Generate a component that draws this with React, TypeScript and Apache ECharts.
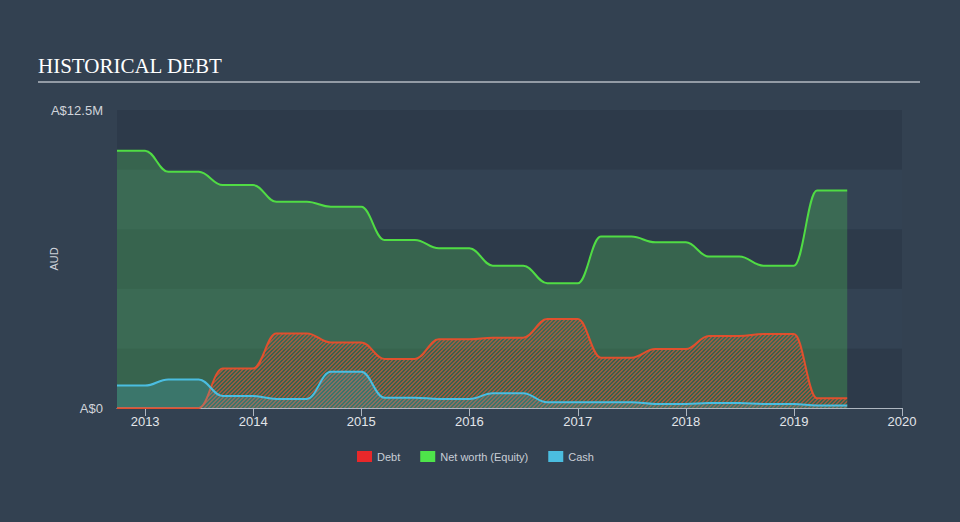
import React, { useEffect, useRef } from "react";
import * as echarts from "echarts";

// Flat segments of each reporting period (start / end of the plateau)
const segStart = [
  "2012-09-28", "2013-03-20", "2013-09-20", "2014-03-20", "2014-09-20",
  "2015-03-20", "2015-09-20", "2016-03-20", "2016-09-20", "2017-03-20",
  "2017-09-20", "2018-03-20", "2018-09-20", "2019-03-20",
];
const segEnd = [
  "2013-01-01", "2013-07-01", "2014-01-01", "2014-07-01", "2015-01-01",
  "2015-07-01", "2016-01-01", "2016-07-01", "2017-01-01", "2017-07-01",
  "2018-01-01", "2018-07-01", "2019-01-01", "2019-06-30",
];
// values in A$ millions
const equity = [10.79, 9.91, 9.35, 8.65, 8.44, 7.05, 6.7, 5.97, 5.23, 7.19, 6.95, 6.35, 5.97, 9.12];
const debt = [0, 0, 1.66, 3.13, 2.75, 2.06, 2.88, 2.95, 3.73, 2.11, 2.47, 3.02, 3.1, 0.41];
const cash = [0.94, 1.2, 0.5, 0.38, 1.52, 0.43, 0.38, 0.62, 0.24, 0.24, 0.17, 0.21, 0.17, 0.11];

const legendNames = ["Debt", "Net worth (Equity)", "Cash"];
const yMin = 0;
const yMax = 12.5;
const yStep = 2.5;

function build(vals: number[]) {
  const out: [string, number][] = [];
  vals.forEach((v, i) => {
    out.push([segStart[i], v]);
    out.push([segEnd[i], v]);
  });
  return out;
}

function makeHatch(color: string) {
  const c = document.createElement("canvas");
  const s = 4;
  c.width = s;
  c.height = s;
  const ctx = c.getContext("2d")!;
  ctx.clearRect(0, 0, s, s);
  ctx.fillStyle = color;
  for (let i = 0; i < s; i++) {
    ctx.fillRect(i, (s - 1 - i) % s, 1, 1);
    ctx.fillRect(i, (s - i) % s, 1, 1);
  }
  return c;
}

export default function App() {
  const ref = useRef<HTMLDivElement>(null);
  useEffect(() => {
    if (!ref.current) return;
    const chart = echarts.init(ref.current, undefined, { renderer: "svg" });
    const hatch = makeHatch("rgba(192,86,58,0.72)");
    chart.setOption({
      animation: false,
      backgroundColor: "#334151",
      title: {
        text: "HISTORICAL DEBT",
        left: 33,
        top: 50,
        textStyle: {
          fontFamily: "Liberation Serif",
          fontSize: 21,
          fontWeight: "normal",
          color: "#ffffff",
        },
      },
      graphic: [
        {
          type: "line",
          shape: { x1: 38, y1: 82, x2: 920, y2: 82 },
          style: { stroke: "#b4bac2", lineWidth: 1.5 },
        },
      ],
      legend: {
        data: legendNames,
        top: 446,
        left: 352,
        icon: "rect",
        itemWidth: 15,
        itemHeight: 11,
        itemGap: 20,
        textStyle: { color: "#c9ced6", fontSize: 11, fontFamily: "Liberation Sans" },
      },
      grid: { left: 117, right: 58, top: 110, bottom: 114 },
      xAxis: {
        type: "time",
        min: "2012-09-28",
        max: "2020-01-01",
        minInterval: 365 * 24 * 3600 * 1000,
        axisLine: { lineStyle: { color: "#aeb6c0", width: 1 } },
        axisTick: { show: true, length: 8, lineStyle: { color: "#aeb6c0" } },
        axisLabel: {
          formatter: "{yyyy}",
          color: "#e2e5ea",
          fontSize: 13,
          margin: 7,
          fontFamily: "Liberation Sans",
          showMinLabel: false,
          showMaxLabel: true,
        },
        splitLine: { show: false },
      },
      yAxis: {
        type: "value",
        min: yMin,
        max: yMax,
        interval: yStep,
        name: "AUD",
        nameLocation: "middle",
        nameGap: 58,
        nameMoveOverlap: false,
        nameRotate: 90,
        nameTextStyle: { color: "#d0d4da", fontSize: 11, fontFamily: "Liberation Sans" },
        axisLine: { show: false },
        axisTick: { show: false },
        splitLine: { show: false },
        splitArea: { show: true, areaStyle: { color: ["#2d3a4a", "#334253"] } },
        axisLabel: {
          color: "#d0d4da",
          fontSize: 13,
          margin: 14,
          fontFamily: "Liberation Sans",
          formatter: (v: number) => (v === yMin ? "A$0" : v === yMax ? "A$12.5M" : ""),
        },
      },
      series: [
        {
          name: "Net worth (Equity)",
          type: "line",
          data: build(equity),
          showSymbol: false,
          smooth: 0.4,
          smoothMonotone: "x",
          itemStyle: { color: "#4ee44a" },
          lineStyle: { color: "#50dc44", width: 2 },
          areaStyle: { color: "rgba(75,180,85,0.35)", opacity: 1 },
          z: 1,
        },
        {
          name: "Debt",
          type: "line",
          data: build(debt),
          showSymbol: false,
          smooth: 0.4,
          smoothMonotone: "x",
          itemStyle: { color: "#e8282a" },
          lineStyle: { color: "#e0502e", width: 2 },
          areaStyle: { color: { image: hatch, repeat: "repeat" }, opacity: 1 },
          z: 2,
        },
        {
          name: "Cash",
          type: "line",
          data: build(cash),
          showSymbol: false,
          smooth: 0.4,
          smoothMonotone: "x",
          itemStyle: { color: "#4bbde0" },
          lineStyle: { color: "#4bbde0", width: 2 },
          areaStyle: { color: "rgba(75,189,224,0.2)", opacity: 1 },
          z: 3,
        },
      ],
    });
    return () => chart.dispose();
  }, []);
  return (
    <div
      ref={ref}
      style={{ position: "fixed", left: 0, top: 0, width: 960, height: 522 }}
    />
  );
}
